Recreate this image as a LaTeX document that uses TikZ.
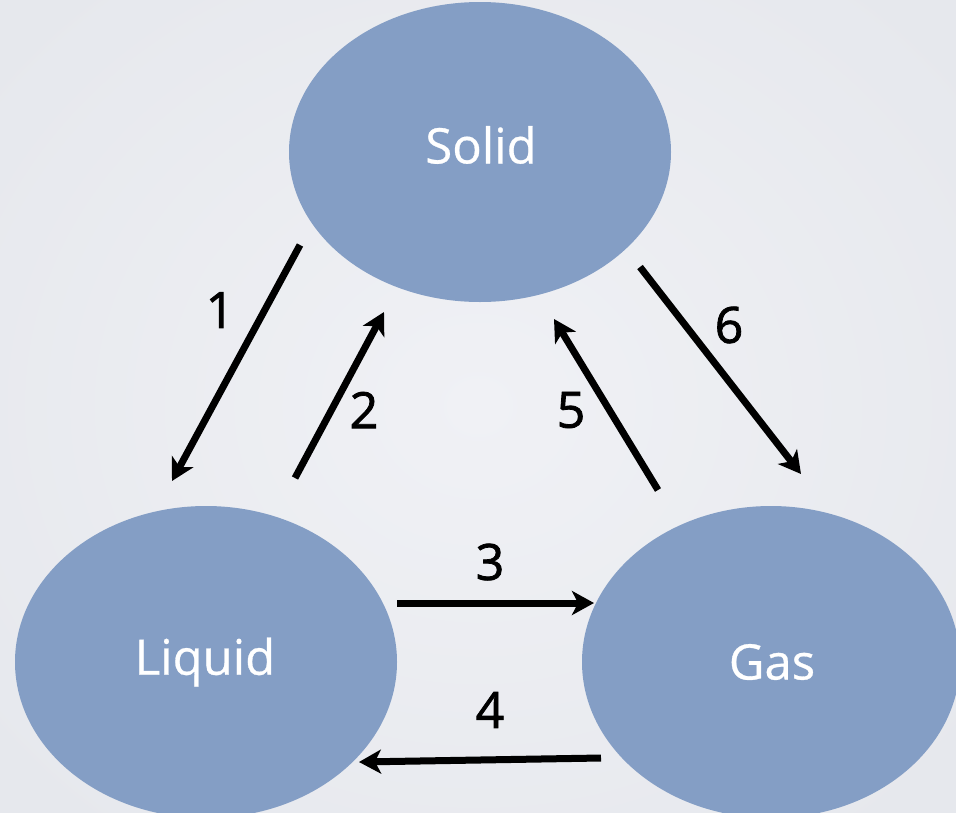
\documentclass[tikz,border=0pt]{standalone}
\usepackage{fontspec}
\setmainfont{Open Sans}
\newfontfamily\numfont[FakeBold=1.6]{Open Sans}
\newfontfamily\namefont[FakeBold=0.6]{Open Sans}
\usetikzlibrary{shapes.geometric,arrows.meta}
\definecolor{bgpale}{RGB}{240,241,245}
\definecolor{bgedge}{RGB}{230,232,237}
\definecolor{phase}{RGB}{132,158,197}
\tikzset{
  x=1pt,y=-1pt,
  phasenode/.style={ellipse,fill=phase,draw=none,inner sep=0pt},
  phasetext/.style={text=white,font=\namefont\fontsize{49}{54}\selectfont,inner sep=0pt},
  trans/.style={line width=7pt,-{Stealth[length=22pt,width=24pt,inset=6pt]}},
  numlabel/.style={font=\numfont\fontsize{50}{54}\selectfont,text=black,inner sep=0pt}
}
\begin{document}
\begin{tikzpicture}
  \useasboundingbox (0,0) rectangle (956,812);
  \clip (0,0) rectangle (956,812);
  % backdrop with a soft vignette
  \shade[inner color=bgpale,outer color=bgedge] (-150,-150) rectangle (1106,962);

  % the three phases
  \node[phasenode,minimum width=382pt,minimum height=300pt] (solid) at (480,152) {};
  \node[phasenode,minimum width=382pt,minimum height=312pt] (liquid) at (206,662) {};
  \node[phasenode,minimum width=378pt,minimum height=312pt] (gas) at (771,662) {};
  \node[phasetext] (solidtxt) at (481,145) {Solid};
  \node[phasetext] (liquidtxt) at (205,662) {Liquid};
  \node[phasetext] (gastxt) at (772,662) {Gas};

  % arrow end points
  \coordinate (a1s) at (300,245);  \coordinate (a1e) at (172,481);
  \coordinate (a2s) at (295,478);  \coordinate (a2e) at (384,312);
  \coordinate (a3s) at (397,603);  \coordinate (a3e) at (594,603);
  \coordinate (a4s) at (601,758);  \coordinate (a4e) at (359,762);
  \coordinate (a5s) at (658,490);  \coordinate (a5e) at (554,319);
  \coordinate (a6s) at (640,267);  \coordinate (a6e) at (801,474);

  % transitions
  \draw[trans] (a1s) -- (a1e);
  \draw[trans] (a2s) -- (a2e);
  \draw[trans] (a3s) -- (a3e);
  \draw[trans] (a4s) -- (a4e);
  \draw[trans] (a5s) -- (a5e);
  \draw[trans] (a6s) -- (a6e);

  % transition numbers
  \node[numlabel] (n1) at (220,310) {1};
  \node[numlabel] (n2) at (364,410) {2};
  \node[numlabel] (n3) at (490,562) {3};
  \node[numlabel] (n4) at (490,710) {4};
  \node[numlabel] (n5) at (571,410) {5};
  \node[numlabel] (n6) at (729,325) {6};
\end{tikzpicture}
\end{document}
